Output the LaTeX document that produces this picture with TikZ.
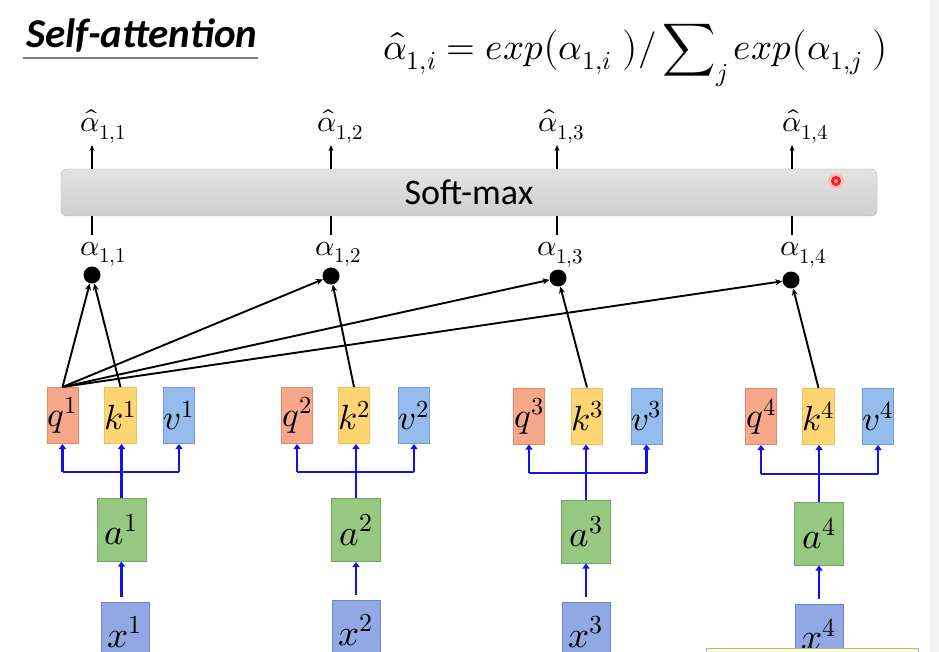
\documentclass[tikz,border=0pt]{standalone}
\usepackage{fontspec}
\usepackage{unicode-math}
\setmathfont{Latin Modern Math}
\newfontfamily\calibri{Carlito}
\usetikzlibrary{arrows.meta}
\definecolor{qfill}{RGB}{247,168,138}
\definecolor{qdraw}{RGB}{226,135,105}
\definecolor{kfill}{RGB}{255,212,115}
\definecolor{kdraw}{RGB}{238,195,95}
\definecolor{vfill}{RGB}{148,188,236}
\definecolor{vdraw}{RGB}{115,155,215}
\definecolor{afill}{RGB}{150,200,130}
\definecolor{adraw}{RGB}{115,165,100}
\definecolor{xfill}{RGB}{145,168,228}
\definecolor{xdraw}{RGB}{110,135,200}
\definecolor{barblue}{RGB}{20,20,225}
\definecolor{notefill}{RGB}{255,255,208}
\begin{document}
\begin{tikzpicture}[x=1pt,y=-1pt,
  vec/.style={draw, line width=1pt, inner sep=0pt, minimum width=31pt, minimum height=56pt, font=\fontsize{35}{35}\selectfont},
  qbox/.style={vec, fill=qfill, draw=qdraw},
  kbox/.style={vec, fill=kfill, draw=kdraw},
  vbox/.style={vec, fill=vfill, draw=vdraw},
  abox/.style={draw=adraw, fill=afill, line width=1pt, inner sep=0pt, minimum width=49pt, minimum height=63pt, font=\fontsize{37}{37}\selectfont},
  xbox/.style={draw=xdraw, fill=xfill, line width=1pt, inner sep=0pt, minimum width=48pt, minimum height=63pt, font=\fontsize{37}{37}\selectfont},
  blarr/.style={draw=barblue, line width=2.4pt, -{Triangle[length=5pt,width=7pt]}},
  blline/.style={draw=barblue, line width=2.4pt},
  karr/.style={draw=black, line width=1.9pt, -{Stealth[length=7pt,width=6pt]}},
  dotnode/.style={circle, fill=black, minimum size=17pt, inner sep=0pt},
  lbl/.style={anchor=base west, inner sep=0pt, font=\fontsize{30}{30}\selectfont},
]
\clip (0,0) rectangle (939,652);
\fill[white] (0,0) rectangle (939,652);
\fill[gray!10] (930,0) rectangle (939,652);

% title
\node[anchor=base west, inner sep=0pt, font=\calibri\bfseries\itshape\fontsize{41}{41}\selectfont] (title) at (26,48) {Self-attention};
\draw[gray, line width=2pt] (title.base west |- 0,58) ++(-3,0) -- (title.base east |- 0,58);

% formula
\node[anchor=base west, inner sep=0pt, font=\fontsize{37}{37}\selectfont] (eq) at (383,60)
  {$\displaystyle \hat{\alpha}_{1,i} = exp\bigl(\alpha_{1,i}\;\bigr)/\sum\nolimits_j exp\bigl(\alpha_{1,j}\;\bigr)$};

% softmax bar
\node[draw=gray!60, rounded corners=6pt, top color=gray!22, bottom color=gray!38, minimum width=816pt, minimum height=47pt, inner sep=0pt, font=\calibri\fontsize{36}{36}\selectfont] (sm) at (469,192.5) {Soft-max};

% laser pointer
\fill[red!25] (836,181) circle (8);
\fill[red!90] (836,181) circle (5);
\fill[red!35] (836,181) circle (2);

% hat labels and alpha labels
\node[lbl] (h1) at (80,132) {$\hat{\alpha}_{1,1}$};
\node[lbl] (h2) at (317,132) {$\hat{\alpha}_{1,2}$};
\node[lbl] (h3) at (538,132) {$\hat{\alpha}_{1,3}$};
\node[lbl] (h4) at (782,132) {$\hat{\alpha}_{1,4}$};
\node[lbl] (l1) at (80,255) {$\alpha_{1,1}$};
\node[lbl] (l2) at (315,255) {$\alpha_{1,2}$};
\node[lbl] (l3) at (537,256) {$\alpha_{1,3}$};
\node[lbl] (l4) at (780,256) {$\alpha_{1,4}$};

\coordinate (t1) at (92,145); \coordinate (t2) at (331,145);
\coordinate (t3) at (557,145); \coordinate (t4) at (792,145);
\coordinate (u1) at (92,235); \coordinate (u2) at (331,235);
\coordinate (u3) at (557,235); \coordinate (u4) at (792,235);
\foreach \i in {1,2,3,4}{
  \draw[line width=1.6pt, -{Stealth[length=6pt,width=5pt]}] (sm.north -| t\i) -- (t\i);
  \draw[line width=1.6pt] (sm.south -| u\i) -- (u\i);
}

% dots
\node[dotnode] (d1) at (92,275) {};
\node[dotnode] (d2) at (331,276) {};
\node[dotnode] (d3) at (558,278) {};
\node[dotnode] (d4) at (791,280) {};

% q k v boxes
\node[qbox] (q1) at (62.5,415.5) {$q^1$};
\node[kbox] (k1) at (120.5,415.5) {$k^1$};
\node[vbox] (v1) at (179,415.5) {$v^1$};
\node[qbox] (q2) at (297,415.5) {$q^2$};
\node[kbox] (k2) at (354,415.5) {$k^2$};
\node[vbox] (v2) at (414,415.5) {$v^2$};
\node[qbox] (q3) at (529,416) {$q^3$};
\node[kbox] (k3) at (587,416) {$k^3$};
\node[vbox] (v3) at (646.5,416) {$v^3$};
\node[qbox] (q4) at (761,416.5) {$q^4$};
\node[kbox] (k4) at (818.5,416.5) {$k^4$};
\node[vbox] (v4) at (878,416.5) {$v^4$};

% a boxes
\node[abox] (a1) at (121.5,529.5) {$a^1$};
\node[abox] (a2) at (356,530) {$a^2$};
\node[abox] (a3) at (586,531.5) {$a^3$};
\node[abox] (a4) at (819,533.5) {$a^4$};

% x boxes
\node[xbox] (x1) at (125,633.5) {\raisebox{3pt}{$x^1$}};
\node[xbox] (x2) at (356,631.5) {\raisebox{3pt}{$x^2$}};
\node[xbox] (x3) at (586,633.5) {\raisebox{3pt}{$x^3$}};
\node[xbox] (x4) at (819,635.5) {\raisebox{3pt}{$x^4$}};

% black attention connectors
\draw[karr] (q1.north) -- (d1);
\draw[karr] (k1.north) -- (d1);
\draw[karr] (q1.north) -- (d2);
\draw[karr] (k2.north) -- (d2);
\draw[karr] (q1.north) -- (d3);
\draw[karr] (k3.north) -- (d3);
\draw[karr] (q1.north) -- (d4);
\draw[karr] (k4.north) -- (d4);

% blue connectors
\coordinate (b1) at (121.5,472); \coordinate (b2) at (356,472);
\coordinate (b3) at (586,473); \coordinate (b4) at (819,474);
\foreach \i in {1,2,3,4}{
  \draw[blline] (q\i.south |- b\i) -- (v\i.south |- b\i);
  \draw[blarr] (q\i.south |- b\i) -- (q\i.south);
  \draw[blarr] (v\i.south |- b\i) -- (v\i.south);
  \draw[blarr] (a\i.north) -- (a\i.north |- k\i.south);
  \draw[blarr] ([yshift=5pt]x\i.north -| a\i.south) -- (a\i.south);
}

% note box at bottom right
\node[draw=gray!60, fill=notefill, minimum width=212pt, minimum height=30pt, inner sep=0pt, anchor=north west] (note) at (706,648) {};
\end{tikzpicture}
\end{document}
